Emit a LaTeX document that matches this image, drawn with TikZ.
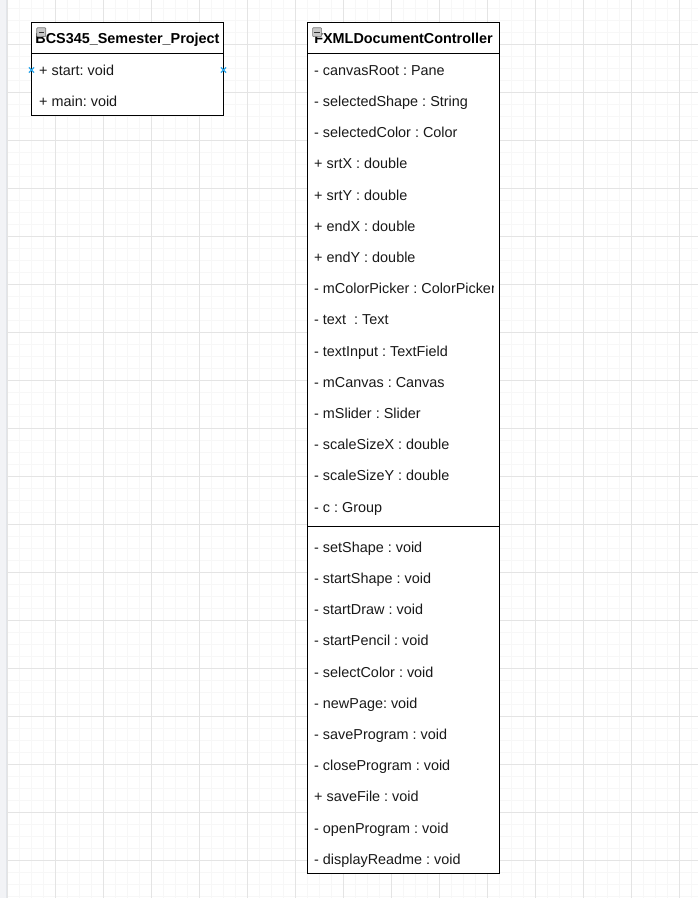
\documentclass[tikz,border=0pt]{standalone}
\usepackage{fontspec}
\setmainfont{Liberation Sans}
\usetikzlibrary{calc}
\frenchspacing
\definecolor{gridminor}{RGB}{247,247,247}
\definecolor{gridmajor}{RGB}{228,228,228}
\definecolor{edgestrip}{RGB}{242,243,246}
\definecolor{edgeline}{RGB}{226,229,234}
\definecolor{ptblue}{RGB}{40,165,235}
\definecolor{icongray}{RGB}{200,200,200}
\definecolor{iconedge}{RGB}{120,120,120}
\begin{document}
\begin{tikzpicture}[x=1pt,y=-1pt,
  classbox/.style={draw=black,line width=1.1pt,inner sep=0pt,outer sep=0pt,anchor=north west},
  member/.style={inner sep=0pt,anchor=base west,font=\fontsize{14.4}{17}\selectfont,text=black!90},
  title/.style={inner sep=0pt,anchor=base,font=\fontsize{14.4}{17}\selectfont\bfseries},
  minorline/.style={draw=gridminor,line width=1pt},
  majorline/.style={draw=gridmajor,line width=1pt},
  sepline/.style={draw=black,line width=1.1pt},
  iconbox/.style={draw=iconedge,fill=icongray,line width=0.7pt,rounded corners=0.8pt},
  ptmark/.style={draw=ptblue,line width=1.3pt}]
\useasboundingbox (0,0) rectangle (698,898);
\fill[white] (0,0) rectangle (698,898);
% grid
\foreach \i in {0,...,58} \draw[minorline] (7.3+12*\i,0) -- (7.3+12*\i,898);
\foreach \i in {0,...,75} \draw[minorline] (0,8.8+12*\i) -- (698,8.8+12*\i);
\foreach \i in {0,...,14} \draw[majorline] (7.3+48*\i,0) -- (7.3+48*\i,898);
\foreach \i in {0,...,18} \draw[majorline] (0,-3.2+48*\i) -- (698,-3.2+48*\i);
\fill[edgestrip] (0,0) rectangle (6.3,898);
\draw[edgeline,line width=0.8pt] (6.3,0) -- (6.3,898);

% ---------- class BCS345_Semester_Project ----------
\node[classbox,fill=white,minimum width=192pt,minimum height=93.4pt] (c1) at (31.5,22.3) {};
\coordinate (c1sepL) at (31.5,53.3);
\coordinate (c1sepR) at (223.5,53.3);
\draw[sepline] (c1sepL) -- (c1sepR);
\node[title] (c1title) at (127.5,43.6) {BCS345\_Semester\_Project};
\node[member] (c1m1) at (39,75.2) {+ start: void};
\node[member] (c1m2) at (39,106.4) {+ main: void};
\draw[iconbox] (36.8,27.8) rectangle (45.8,36.6);
\draw[black!80,line width=1pt] (38.6,32.2) -- (44,32.2);
\coordinate (p1) at (31.5,70);
\coordinate (p2) at (223.5,70);
\draw[ptmark] ($(p1)+(-2.6,-2.6)$) -- ($(p1)+(2.6,2.6)$) ($(p1)+(-2.6,2.6)$) -- ($(p1)+(2.6,-2.6)$);
\draw[ptmark] ($(p2)+(-2.6,-2.6)$) -- ($(p2)+(2.6,2.6)$) ($(p2)+(-2.6,2.6)$) -- ($(p2)+(2.6,-2.6)$);

% ---------- class FXMLDocumentController ----------
\node[classbox,fill=white,minimum width=192pt,minimum height=851pt] (c2) at (307.5,22.3) {};
\coordinate (c2sepL) at (307.5,53.3);
\coordinate (c2sepR) at (499.5,53.3);
\draw[sepline] (c2sepL) -- (c2sepR);
\coordinate (c2divL) at (307.5,526.1);
\coordinate (c2divR) at (499.5,526.1);
\draw[sepline] (c2divL) -- (c2divR);
\node[title] (c2title) at (403.5,43.6) {FXMLDocumentController};
\begin{scope}
\clip (308,53.8) rectangle (493.4,873);
\foreach \t [count=\k from 0] in {- canvasRoot : Pane,- selectedShape : String,- selectedColor : Color,+ srtX : double,+ srtY : double,+ endX : double,+ endY : double,- mColorPicker : ColorPicker,- text\ \ : Text,- textInput : TextField,- mCanvas : Canvas,- mSlider : Slider,- scaleSizeX : double,- scaleSizeY : double,- c : Group}
  \node[member] (attr\k) at (314,75.2+31.2*\k) {\t};
\foreach \t [count=\k from 0] in {- setShape : void,- startShape : void,- startDraw : void,- startPencil : void,- selectColor : void,- newPage: void,- saveProgram : void,- closeProgram : void,+ saveFile : void,- openProgram : void,- displayReadme : void}
  \node[member] (meth\k) at (314,552.2+31.2*\k) {\t};
\end{scope}
\draw[iconbox] (312.6,27.8) rectangle (321.6,36.6);
\draw[black!80,line width=1pt] (314.4,32.2) -- (319.8,32.2);
\end{tikzpicture}
\end{document}
